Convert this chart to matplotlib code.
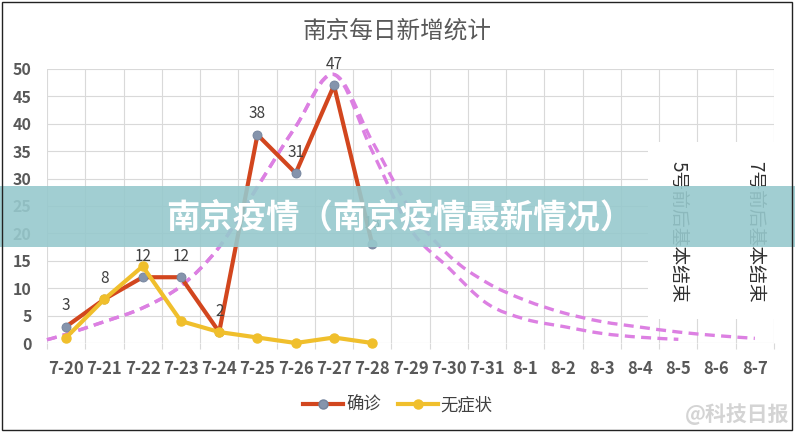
import numpy as np
import matplotlib
matplotlib.use('Agg')
import matplotlib.pyplot as plt
from matplotlib.path import Path
from matplotlib.patches import PathPatch, Rectangle
from matplotlib.lines import Line2D

plt.rcParams['font.family'] = ['Noto Sans CJK SC', 'DejaVu Sans']

# ---------------- data ----------------
dates = ['7-20', '7-21', '7-22', '7-23', '7-24', '7-25', '7-26', '7-27', '7-28',
         '7-29', '7-30', '7-31', '8-1', '8-2', '8-3', '8-4', '8-5', '8-6', '8-7']
confirmed = [3, 8, 12, 12, 2, 38, 31, 47, 18]
asymptomatic = [1, 8, 14, 4, 2, 1, 0, 1, 0]

# hand-drawn trend curves (category position, value)
trend_rise_x = [-0.5, 0, 1, 2, 3, 4, 5, 6, 7]
trend_rise_y = [0.6, 1.6, 3.9, 6.4, 10.4, 17.5, 28.5, 39.5, 49.0]
fast_decay_x = [8, 9, 10, 11, 12, 13, 14, 15, 16]
fast_decay_y = [35.0, 20.8, 13.7, 7.2, 4.35, 3.0, 1.75, 1.05, 0.67]
slow_decay_x = [8, 9, 10, 11, 12, 13, 14, 15, 16, 17, 18]
slow_decay_y = [36.8, 24.3, 16.0, 11.0, 7.8, 5.5, 3.9, 2.9, 2.0, 1.35, 0.85]

notes = ['5号前后基本结束', '7号前后基本结束']
note_dates = ['8-5', '8-7']

title = '南京每日新增统计'
banner = '南京疫情（南京疫情最新情况）'
series_names = ['确诊', '无症状']
watermark = '@科技日报'

# ---------------- style ----------------
RED = '#D2461E'
RED_MK = '#8594AC'
YEL = '#F0BF2C'
DASH = '#DC80E2'
GRID = '#D9D9D9'
TXT = '#595959'


def smooth_path(xs, ys):
    pts = np.column_stack([xs, ys]).astype(float)
    n = len(pts)
    verts = [pts[0]]
    codes = [Path.MOVETO]
    for i in range(n - 1):
        p0 = pts[max(i - 1, 0)]
        p1 = pts[i]
        p2 = pts[i + 1]
        p3 = pts[min(i + 2, n - 1)]
        c1 = p1 + (p2 - p0) / 6.0
        c2 = p2 - (p3 - p1) / 6.0
        verts += [c1, c2, p2]
        codes += [Path.CURVE4] * 3
    return Path(np.array(verts), codes)


fig = plt.figure(figsize=(7.95, 4.34), dpi=100)
W, H = 795, 434
ax = fig.add_axes([47 / W, 91 / H, 727 / W, 274 / H])
ax.set_xlim(-0.5, len(dates) - 0.5)
ax.set_ylim(0, 50)
for s in ax.spines.values():
    s.set_visible(False)

xi = np.arange(len(dates))
ax.set_xticks(xi)
ax.set_xticklabels(dates)
ax.set_xticks(np.arange(-0.5, len(dates), 1.0), minor=True)
ax.set_yticks(np.arange(0, 51, 5))
ax.tick_params(axis='x', which='major', length=0, pad=12, labelsize=12,
               labelcolor=TXT)
ax.tick_params(axis='x', which='minor', length=4, color=GRID, width=0.8)
ax.tick_params(axis='y', length=0, pad=11, labelsize=11.5, labelcolor=TXT)
for lab in ax.get_xticklabels() + ax.get_yticklabels():
    lab.set_fontweight('bold')
ax.grid(True, axis='y', which='major', color=GRID, lw=0.8, zorder=0)
ax.grid(True, axis='x', which='minor', color=GRID, lw=0.8, zorder=0)
ax.set_axisbelow(True)

# white note box covering grid
ax.add_patch(Rectangle((15.2, 4.4), 3.35, 32.2, facecolor='white',
                       edgecolor='none', zorder=1, clip_on=False))
for note, d in zip(notes, note_dates):
    ax.text(dates.index(d), 20.3, note, rotation=-90, ha='center', va='center',
            fontsize=13.5, color='#303030', zorder=2)

# trend dashed curves
for dx, dy in ((fast_decay_x, fast_decay_y), (slow_decay_x, slow_decay_y)):
    px = trend_rise_x + dx
    py = trend_rise_y + dy
    patch = PathPatch(smooth_path(px, py), fill=False, edgecolor=DASH, lw=2.4,
                      linestyle=(0, (3.0, 1.9)), capstyle='butt', zorder=3,
                      clip_on=False)
    ax.add_patch(patch)

# series
xc = np.arange(len(confirmed))
ax.plot(xc, confirmed, color=RED, lw=3.0, marker='o', ms=6.5,
        mfc=RED_MK, mec='#73839c', mew=0.6, zorder=4, clip_on=False,
        solid_joinstyle='round')
xa = np.arange(len(asymptomatic))
ax.plot(xa, asymptomatic, color=YEL, lw=3.0, marker='o', ms=6.5,
        mfc=YEL, mec=YEL, zorder=5, clip_on=False, solid_joinstyle='round')

for x, v in zip(xc, confirmed):
    ax.annotate(str(v), (x, v), xytext=(0, 15), textcoords='offset points',
                ha='center', va='center', fontsize=11, color='#404040',
                zorder=6)

# title
fig.text(397 / W, 1 - 31 / H, title, ha='center', va='center', fontsize=17,
         color=TXT)

# legend
handles = [Line2D([], [], color=RED, lw=3.0, marker='o', ms=6.5, mfc=RED_MK,
                  mec='#73839c'),
           Line2D([], [], color=YEL, lw=3.0, marker='o', ms=6.5, mfc=YEL,
                  mec=YEL)]
ax.legend(handles, series_names, loc='center', ncol=2, frameon=False,
          bbox_to_anchor=(398 / W, 1 - 405 / H), bbox_transform=fig.transFigure,
          fontsize=12.5, handlelength=2.3, handletextpad=0.15, columnspacing=1.0,
          labelcolor='#404040')

# banner overlay
fig.add_artist(Rectangle((0, 1 - 247 / H), 1, 61 / H, transform=fig.transFigure,
                         facecolor='#97C9CD', edgecolor='none', alpha=0.9,
                         zorder=10))
fig.text(400 / W, 1 - 218 / H, banner, ha='center', va='center', fontsize=24,
         fontweight='bold', color='white', zorder=11)

# watermark
fig.text(737 / W, 1 - 414 / H, watermark, ha='center', va='center', fontsize=15,
         fontweight='bold', color='#d4d4d4', zorder=11)

# outer frame
fig.add_artist(Rectangle((2 / W, 4 / H), 790 / W, 428 / H, transform=fig.transFigure,
                         fill=False, edgecolor='#222222', lw=1.0, zorder=12))

fig.savefig('out.png', dpi=100)
